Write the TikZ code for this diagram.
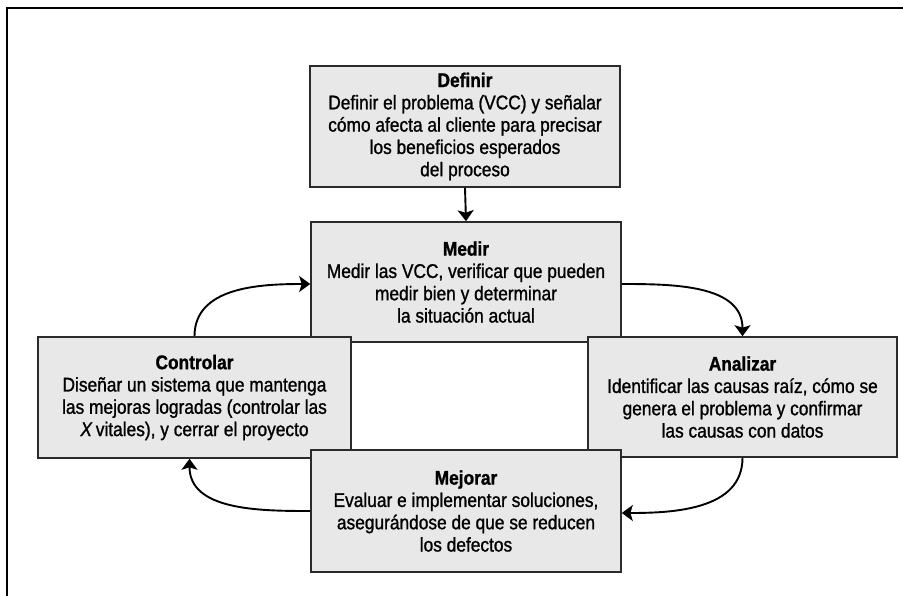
\documentclass[tikz,border=0pt]{standalone}
\usepackage{fontspec}
\setmainfont{Liberation Sans}[FakeStretch=0.875, FakeBold=1.1]
\usetikzlibrary{arrows.meta}

\definecolor{boxfill}{HTML}{E8E8E8}
\definecolor{boxline}{HTML}{2B2B2B}

\tikzset{
  stage/.style={draw=boxline, line width=1.6pt, fill=boxfill, inner sep=0pt,
    align=center, anchor=center,
    font=\fontsize{19.8}{22.3}\selectfont},
  flow/.style={line width=1.9pt, draw=black,
    -{Stealth[length=11pt, width=16pt, inset=2.5pt]}},
  frame/.style={line width=1.6pt, draw=black}
}

\newcommand{\stagetitle}[1]{{\bfseries #1}}

\begin{document}
\begin{tikzpicture}[x=1pt, y=-1pt]
  \useasboundingbox (0,0) rectangle (903,595);

  % outer frame (only the left and top sides fall on the page)
  \draw[frame] (7,600) -- (7,8) -- (910,8);

  % DMAIC stages
  \node[stage, minimum width=310pt, minimum height=121pt] (def) at (465,126.5)
    {\stagetitle{Definir}\\
     Definir el problema (VCC) y señalar\\
     cómo afecta al cliente para precisar\\
     los beneficios esperados\\
     del proceso};

  \node[stage, minimum width=310pt, minimum height=120pt] (med) at (466,282)
    {\stagetitle{Medir}\\
     Medir las VCC, verificar que pueden\\
     medir bien y determinar\\
     la situación actual};

  \node[stage, minimum width=313pt, minimum height=121pt] (con) at (194.5,397.5)
    {\stagetitle{Controlar}\\
     Diseñar un sistema que mantenga\\
     las mejoras logradas (controlar las\\
     \textit{X}\,vitales), y cerrar el proyecto};

  \node[stage, minimum width=309pt, minimum height=120pt] (ana) at (742.5,397)
    {\stagetitle{Analizar}\\
     Identificar las causas raíz, cómo se\\
     genera el problema y confirmar\\
     las causas con datos};

  \node[stage, minimum width=310pt, minimum height=122pt] (mej) at (466,511)
    {\stagetitle{Mejorar}\\
     Evaluar e implementar soluciones,\\
     asegurándose de que se reducen\\
     los defectos};

  % cycle connectors
  \draw[flow] (def.south) -- (med.north);
  \draw[flow] (con.north) to[out=90, in=180] ([yshift=-2pt]med.west);
  \draw[flow] ([yshift=-2pt]med.east) to[out=0, in=90] (ana.north);
  \draw[flow] (ana.south) to[out=-90, in=0] ([yshift=-2pt]mej.east);
  \draw[flow] (mej.west) to[out=180, in=-90] ([xshift=-5pt]con.south);
\end{tikzpicture}
\end{document}
